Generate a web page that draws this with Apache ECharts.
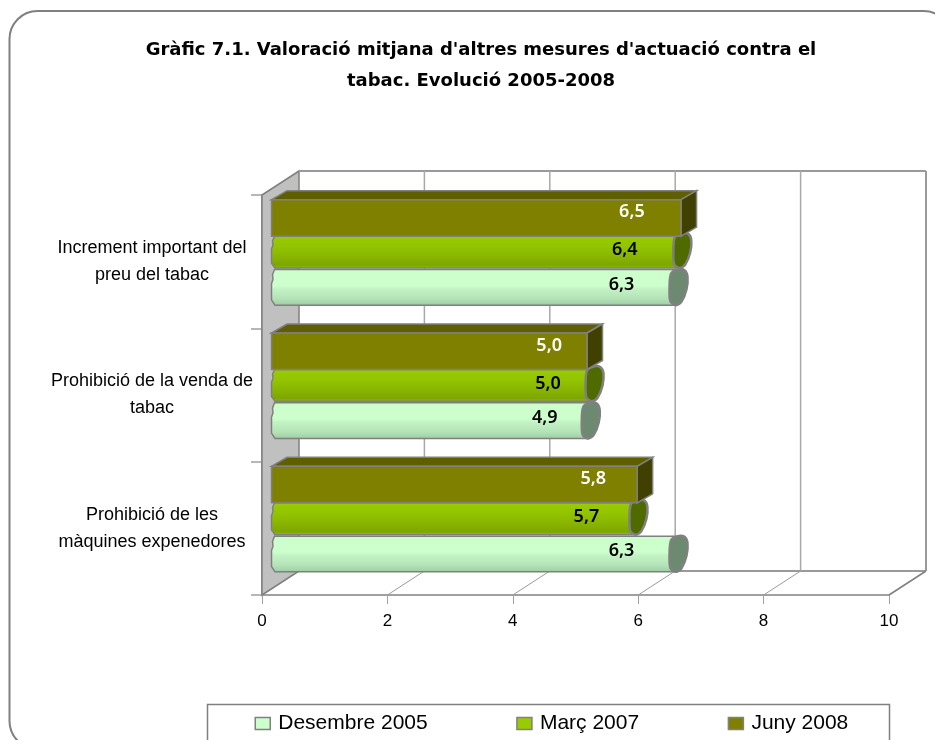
<!DOCTYPE html>
<html>
<head>
<meta charset="utf-8">
<style>html,body{margin:0;padding:0;background:#fff;overflow:hidden}#c{width:935px;height:740px}</style>
<script src="https://cdn.jsdelivr.net/npm/echarts@6/dist/echarts.min.js"></script>
</head>
<body>
<div id="c"></div>
<script>
const categories = ["Increment important del\npreu del tabac", "Prohibició de la venda de\ntabac", "Prohibició de les\nmàquines expenedores"];
const xTicks = [0, 2, 4, 6, 8, 10];
const dec2005 = [6.3, 4.9, 6.3];
const mar2007 = [6.4, 5.0, 5.7];
const jun2008 = [6.5, 5.0, 5.8];
const seriesNames = ["Desembre 2005", "Març 2007", "Juny 2008"];

const chart = echarts.init(document.getElementById('c'), null, {renderer: 'canvas'});
const LINE = '#808080';
const DX = 37, DY = -24;
const LABEL_FONT = '600 18px "Noto Sans"';

function grad(stops) {
  return new echarts.graphic.LinearGradient(0, 0, 0, 1, stops.map(s => ({offset: s[0], color: s[1]})));
}

function wallItem(params, api) {
  const v = api.value(0);
  const p = api.coord([v, 0]);
  const cs = params.coordSys;
  const x = p[0], top = cs.y, bot = cs.y + cs.height;
  const kids = [];
  if (v === 0) {
    kids.push({type: 'polygon', shape: {points: [[x, top], [x + DX, top + DY], [x + DX, bot + DY], [x, bot]]},
      style: {fill: '#c0c0c0', stroke: LINE, lineWidth: 1.5}});
    kids.push({type: 'line', shape: {x1: x + DX, y1: top + DY, x2: cs.x + cs.width + DX, y2: top + DY},
      style: {stroke: '#9a9a9a', lineWidth: 2}});
    kids.push({type: 'line', shape: {x1: x + DX, y1: bot + DY, x2: cs.x + cs.width + DX, y2: bot + DY},
      style: {stroke: '#9a9a9a', lineWidth: 2}});
  } else {
    kids.push({type: 'line', shape: {x1: x + DX, y1: top + DY, x2: x + DX, y2: bot + DY},
      style: {stroke: v === 10 ? '#9a9a9a' : '#a8a8a8', lineWidth: v === 10 ? 2 : 1.5}});
    kids.push({type: 'line', shape: {x1: x, y1: bot, x2: x + DX, y2: bot + DY},
      style: {stroke: v === 10 ? '#808080' : '#9a9a9a', lineWidth: v === 10 ? 1.5 : 1}});
  }
  return {type: 'group', children: kids};
}

function label(v, x, y, fill) {
  return {type: 'text', z2: 10, style: {text: v.toFixed(1).replace('.', ','), x, y, align: 'center', verticalAlign: 'middle', fill, font: LABEL_FONT}};
}

function brownItem(params, api) {
  const v = api.value(0), c = api.coord([v, api.value(1)]), o = api.coord([0, api.value(1)]);
  const x0 = o[0] + 9.5, x1 = c[0] + 11.5, yt = c[1] - 62, yb = c[1] - 25.5, dx = 15.5, dy = -9;
  return {type: 'group', children: [
    {type: 'polygon', shape: {points: [[x0, yt], [x0 + dx, yt + dy], [x1 + dx, yt + dy], [x1, yt]]}, style: {fill: '#5f5f00', stroke: LINE, lineWidth: 1.5}},
    {type: 'polygon', shape: {points: [[x1, yt], [x1 + dx, yt + dy], [x1 + dx, yb + dy], [x1, yb]]}, style: {fill: '#404000', stroke: LINE, lineWidth: 1.5}},
    {type: 'rect', shape: {x: x0, y: yt, width: x1 - x0, height: yb - yt}, style: {fill: '#808000', stroke: LINE, lineWidth: 1.5}},
    label(v, x0 + (x1 - x0) * 0.88, c[1] - 49.5, '#ffffff')
  ]};
}

function cylinderItem(cfg) {
  return function (params, api) {
    const v = api.value(0), c = api.coord([v, api.value(1)]), o = api.coord([0, api.value(1)]);
    const x0 = o[0] + 9.5, xe = c[0] + cfg.off, yt = c[1] + cfg.top, yb = c[1] + cfg.bot, h = yb - yt;
    const yc = yt - cfg.capLift, hc = yb - yc;
    const pts = [[xe + 2, yc], [xe + 9, yc + hc * 0.02], [xe + 12, yc + hc * 0.2], [xe + 11, yc + hc * 0.55],
      [xe + 6, yc + hc * 0.9], [xe + 0.5, yb], [xe - 5, yc + hc * 0.9], [xe - 6, yc + hc * 0.55], [xe - 4.5, yc + hc * 0.12]];
    return {type: 'group', children: [
      {type: 'polygon', shape: {points: [[x0 + 3, yt], [x0 + 1, yt + h * 0.15], [x0 + 1.5, yt + h * 0.28], [x0, yt + h * 0.4], [x0, yt + h * 0.85], [x0 + 3.5, yb], [xe, yb], [xe, yt]]},
        style: {fill: grad(cfg.stops), stroke: LINE, lineWidth: 1.5}},
      {type: 'polygon', shape: {points: pts, smooth: 0.3}, style: {fill: cfg.cap, stroke: LINE, lineWidth: 2.5}},
      label(v, x0 + (xe - 4 - x0) * 0.875, c[1] + cfg.labelY, '#000000')
    ]};
  };
}

const lightCfg = {off: 18.5, top: 7.8, bot: 43.5, capLift: 0, cap: '#6b8a70', labelY: 23,
  stops: [[0, '#ccffcc'], [0.45, '#ccffcc'], [0.55, '#c2f2c4'], [0.8, '#b5e3b8'], [0.93, '#a6d4aa'], [1, '#98c49c']]};
const greenCfg = {off: 16, top: -25.5, bot: 6.3, capLift: 3, cap: '#4f6b00', labelY: -11.5,
  stops: [[0, '#99cc00'], [0.35, '#92c400'], [0.65, '#88b400'], [0.9, '#7da600'], [0.95, '#8db800'], [1, '#7a9f00']]};

function rows(arr) { return arr.map((v, i) => [v, i]); }

chart.setOption({
  animation: false,
  tooltip: {show: false},
  title: {
    text: "Gràfic 7.1. Valoració mitjana d'altres mesures d'actuació contra el\ntabac. Evolució 2005-2008",
    left: 476, top: 30, textAlign: 'center',
    textStyle: {fontFamily: 'DejaVu Sans', fontWeight: 'bold', fontSize: 18, lineHeight: 31, color: '#000'}
  },
  legend: {
    data: seriesNames, left: 254.5, top: 713, padding: 0, icon: 'rect', itemWidth: 15, itemHeight: 12, itemGap: 88.5,
    selectedMode: false,
    itemStyle: {borderColor: LINE, borderWidth: 1.5},
    textStyle: {fontFamily: 'Liberation Sans', fontSize: 21, color: '#000', padding: [0, 0, 0, 3]}
  },
  graphic: [
    {type: 'rect', z: -1, silent: true, shape: {x: 9.5, y: 11, width: 942, height: 738, r: 28}, style: {fill: '#fff', stroke: LINE, lineWidth: 2}},
    {type: 'rect', z: -1, silent: true, shape: {x: 207.5, y: 704.5, width: 682, height: 60}, style: {fill: '#fff', stroke: LINE, lineWidth: 1.5}}
  ],
  grid: {left: 262, right: 46, top: 195, height: 400, containLabel: false, outerBoundsMode: 'none'},
  xAxis: {
    type: 'value', min: 0, max: 10, interval: 2,
    splitLine: {show: false},
    axisLine: {show: true, lineStyle: {color: '#a0a0a0', width: 2}},
    axisTick: {show: true, length: 9, lineStyle: {color: '#a0a0a0', width: 1}},
    axisLabel: {margin: 18, fontFamily: 'Liberation Sans', fontSize: 17, color: '#000'}
  },
  yAxis: {
    type: 'category', inverse: true, data: categories,
    axisLine: {show: true, lineStyle: {color: LINE, width: 1.5}},
    axisTick: {show: true, length: 11, lineStyle: {color: '#a0a0a0', width: 1.5}},
    axisLabel: {margin: 110, align: 'center', lineHeight: 27, fontFamily: 'Liberation Sans', fontSize: 18, color: '#000', interval: 0}
  },
  series: [
    {type: 'custom', name: 'parets', z: 1, silent: true, legendHoverLink: false, renderItem: wallItem, encode: {x: 0, y: 1}, data: xTicks.map(t => [t, 0]), clip: false},
    {type: 'custom', name: seriesNames[0], z: 3, renderItem: cylinderItem(lightCfg), encode: {x: 0, y: 1}, data: rows(dec2005), itemStyle: {color: '#ccffcc'}, clip: false},
    {type: 'custom', name: seriesNames[1], z: 4, renderItem: cylinderItem(greenCfg), encode: {x: 0, y: 1}, data: rows(mar2007), itemStyle: {color: '#99cc00'}, clip: false},
    {type: 'custom', name: seriesNames[2], z: 5, renderItem: brownItem, encode: {x: 0, y: 1}, data: rows(jun2008), itemStyle: {color: '#808000'}, clip: false}
  ]
});
</script>
</body>
</html>
